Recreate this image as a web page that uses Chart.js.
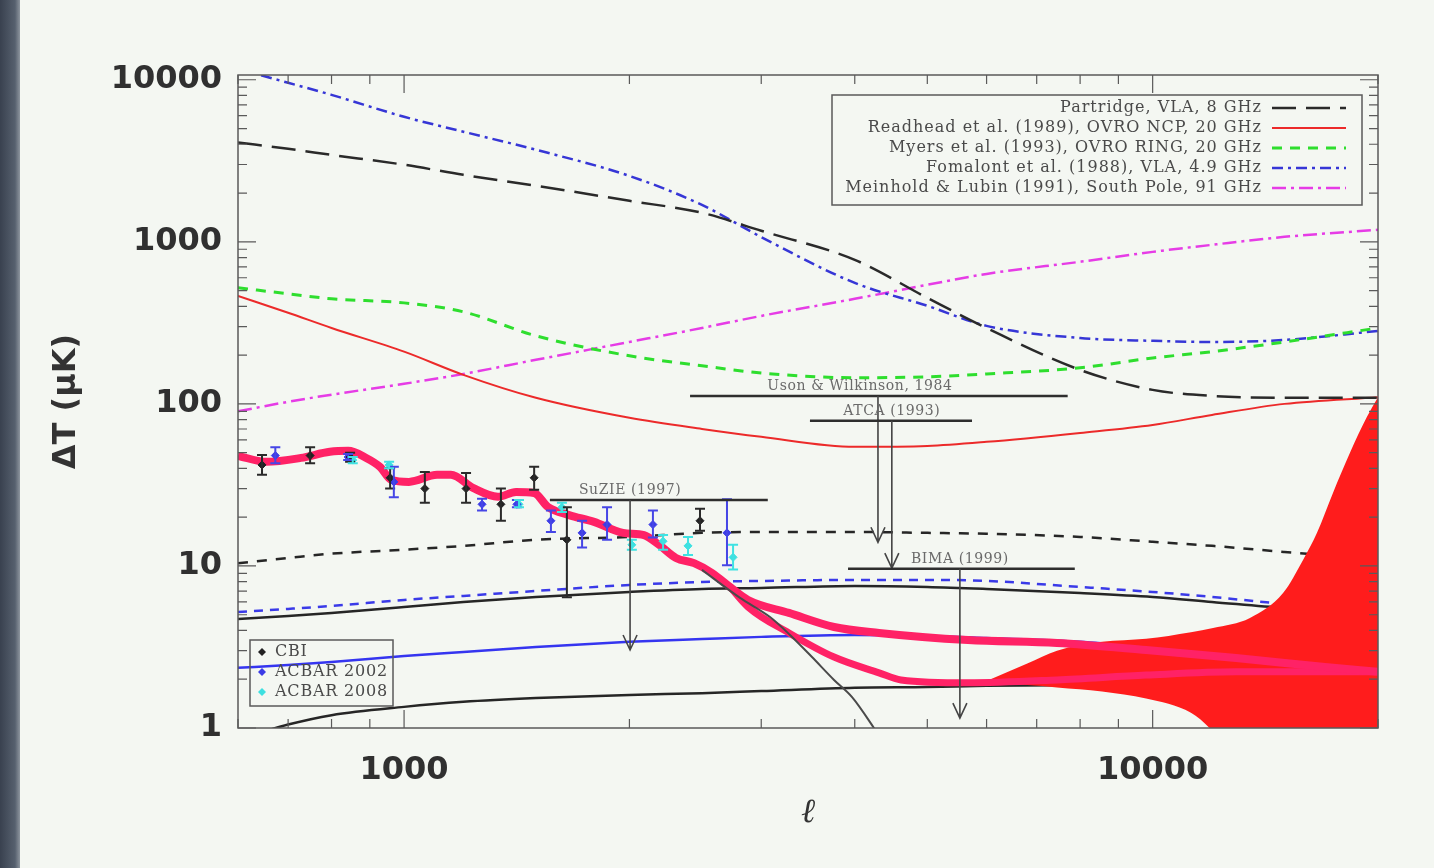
<!DOCTYPE html>
<html><head><meta charset="utf-8">
<script src="https://cdn.jsdelivr.net/npm/chart.js@4/dist/chart.umd.min.js"></script>
<style>
html,body{margin:0;padding:0;background:#f4f7f2;overflow:hidden;width:1434px;height:868px}
#edge{position:absolute;left:0;top:0;width:20px;height:868px;background:linear-gradient(to right,#39414f,#56606e 75%,#8d959e)}
#c{position:absolute;left:0;top:0}
</style></head>
<body><div id="edge"></div><canvas id="c" width="1434" height="868"></canvas>
<script>
// ---- axes ----
const xTicks = [1000, 10000];
const yTicks = [1, 10, 100, 1000, 10000];
const xRange = [600, 20000];
const yRange = [1, 10700];

// ---- sensitivity curves (sampled multipoles) ----
const ell = [600,700,800,1000,1200,1500,2000,2500,3000,4000,5000,6000,8000,10000,12000,15000,20000];
const partridge = [4100,3750,3440,2990,2590,2220,1790,1510,1170,774,451,294,162,122,112,109,109];
const readhead  = [464,365,294,210,151,109,82,70,62.6,54.3,55,58.3,66.2,74.1,85.5,100,110];
const myers     = [520,478,445,420,370,263,198,172,155,145,147,153,167,192,210,241,294];
const fomalont  = [11700,9580,8070,5910,4780,3700,2550,1690,1070,558,403,303,255,245,241,248,282];
const meinhold  = [90,103,114,133,153,187,241,294,349,445,543,634,753,867,958,1073,1186];
const dashedBlack = [10.4,11.2,11.9,12.6,13.3,14.5,15.1,16.0,16.2,16.2,16.0,15.8,15.1,14.1,13.3,12.2,10.9];
const dashedBlue  = [5.20,5.43,5.66,6.17,6.53,7.01,7.63,7.96,8.08,8.2,8.2,8.08,7.42,6.91,6.44,5.83,5.35];
const solidBlack  = [4.71,4.91,5.13,5.58,6.0,6.44,6.91,7.21,7.31,7.53,7.42,7.21,6.81,6.44,6.0,5.5,5.05];
const solidBlue   = [2.35,2.45,2.55,2.78,2.94,3.16,3.40,3.54,3.65,3.75,3.70,3.59,3.40,3.12,2.90,2.63,2.35];
const solidLow    = [0.85,1.05,1.20,1.35,1.45,1.53,1.60,1.64,1.69,1.77,1.79,1.82,1.84,1.85,1.86,1.87,1.87];

// ---- CMB model curves ----
const cmbL = [600,654,728,796,842,890,929,961,1015,1107,1155,1236,1335,1411,1492,1557,1661,1794,1961,2092,2191,2308,2440,2579,2726,2881,3267,3753,4310,5667,7451,9800,12925,16990,20000];
const cmbSZ = [47.8,43.9,46.4,50.6,51.3,46.4,40.8,34.0,33.0,36.5,36.5,30.3,26.7,28.6,28.2,23.1,20.6,18.7,16.0,15.5,13.5,11.2,10.4,9.05,7.42,6.17,5.13,4.20,3.86,3.49,3.35,3.03,2.70,2.38,2.22];
const lowL = [2726,2881,3267,3753,4310,4612,5667,7451,9800,12925,20000];
const cmbSZLow = [7.42,5.58,3.86,2.74,2.19,1.98,1.90,1.98,2.12,2.22,2.22];
const primL = [2500,2811,3082,3278,3507,3753,3967,4243,4389];
const primary = [9.45,6.35,4.84,3.75,2.74,1.98,1.55,1.0,0.785];
const bandL  = [6000,6800,7451,8558,9800,11250,12042,13488,14935,15882,16578,17413,18348,19333,20000];
const bandHi = [1.95,2.5,3.0,3.4,3.55,3.9,4.14,4.78,6.81,10.9,16.0,28.2,49.9,83.2,110];
const bandLo = [1.9,1.84,1.78,1.68,1.52,1.24,0.95,0.5,0.5,0.5,0.5,0.5,0.5,0.5,0.5];

// ---- data points ----
const cbiL  = [646,749,847,958,1066,1210,1347,1492,1650,2485];
const cbiV  = [42,48,47,35,30,30,24,35,14.5,19];
const cbiLo = [36.5,43,44,30,24.5,24.5,19,29.5,6.4,16.5];
const cbiHi = [48.4,54,50,40,38,37.5,30,41,23,22.5];
const acb02L  = [673,842,969,1271,1415,1571,1729,1867,2150,2700];
const acb02V  = [48,47,33,24,24,19,16,18,18,16];
const acb02Lo = [43,45,26.5,22,23,16.2,13,14.5,15,10.1];
const acb02Hi = [54,49,41,26,25.5,22,19,23,22,25.8];
const acb08L  = [854,955,1424,1625,2015,2218,2395,2751];
const acb08V  = [45,42,24,23,13.5,14.2,13.3,11.3];
const acb08Lo = [43,40,23,21.5,12.6,12.6,11.7,9.5];
const acb08Hi = [47,44,25.5,24.5,14.5,15.5,15.1,13.5];

// ---- upper limits ----
const limitNames = ['Uson & Wilkinson, 1984','ATCA (1993)','SuZIE (1997)','BIMA (1999)'];
const limitLmin  = [2410,3485,1566,3918];
const limitLmax  = [7700,5737,3061,7870];
const limitValue = [112,78.6,25.5,9.6];
const limitArrowL = [4296,4483,2004,5527];
const limitArrowTip = [14.0,9.7,3.03,1.15];

const pts = (L,V) => L.map((l,i)=>({x:l,y:V[i]}));
const line = (label,L,V,color,width,dash,order,extra) => Object.assign({
  label, data:pts(L,V), showLine:true, borderColor:color, backgroundColor:color,
  borderWidth:width, borderDash:dash||[], pointRadius:0, order,
  cubicInterpolationMode:'monotone', fill:false
}, extra||{});

const datasets = [
  line('Partridge, VLA, 8 GHz', ell, partridge, '#2a2a2a', 2.5, [24,10], 6),
  line('Readhead et al. (1989), OVRO NCP, 20 GHz', ell, readhead, '#ec2a2a', 2, [], 6),
  line('Myers et al. (1993), OVRO RING, 20 GHz', ell, myers, '#2ede2e', 3, [10,8], 6),
  line('Fomalont et al. (1988), VLA, 4.9 GHz', ell, fomalont, '#3636d6', 2.5, [11,5,3,5], 6),
  line('Meinhold & Lubin (1991), South Pole, 91 GHz', ell, meinhold, '#e63ce6', 2.5, [14,5,3,5], 6),
  line('noise dashed black', ell, dashedBlack, '#262626', 2.5, [10,9], 5),
  line('noise dashed blue', ell, dashedBlue, '#3a3ae8', 2.5, [9,7], 5),
  line('noise solid black', ell, solidBlack, '#262626', 2.5, [], 5),
  line('noise solid blue', ell, solidBlue, '#3535f0', 2.5, [], 5),
  line('noise solid low', ell, solidLow, '#262626', 2.5, [], 5),
  line('band high', bandL, bandHi, 'rgba(0,0,0,0)', 0, [], 4, {fill:'+1', backgroundColor:'#ff1c1c'}),
  line('band low', bandL, bandLo, 'rgba(0,0,0,0)', 0, [], 4),
  line('CMB + SZ', cmbL, cmbSZ, '#ff2266', 8, [], 3),
  line('CMB + SZ low', lowL, cmbSZLow, '#ff2266', 7, [], 3),
  line('primary CMB', primL, primary, '#4a4a4a', 2, [], 2),
  {label:'CBI', data:pts(cbiL,cbiV), showLine:false, pointStyle:'rectRot', pointRadius:4, backgroundColor:'#222', borderColor:'#222', order:0},
  {label:'ACBAR 2002', data:pts(acb02L,acb02V), showLine:false, pointStyle:'rectRot', pointRadius:4, backgroundColor:'#3c3ce6', borderColor:'#3c3ce6', order:0},
  {label:'ACBAR 2008', data:pts(acb08L,acb08V), showLine:false, pointStyle:'rectRot', pointRadius:4, backgroundColor:'#3de0e0', borderColor:'#3de0e0', order:0}
];

const overlay = {
  id:'overlay',
  afterDatasetsDraw(chart){
    const ctx = chart.ctx, xs = chart.scales.x, ys = chart.scales.y, a = chart.chartArea;
    const px = v => xs.getPixelForValue(v), py = v => ys.getPixelForValue(v);
    ctx.save();
    ctx.beginPath(); ctx.rect(a.left,a.top,a.right-a.left,a.bottom-a.top); ctx.clip();
    const err = (L,LO,HI,color) => {
      ctx.strokeStyle = color; ctx.lineWidth = 2;
      L.forEach((l,i)=>{
        const x = px(l), y1 = py(LO[i]), y2 = py(HI[i]);
        ctx.beginPath(); ctx.moveTo(x,y1); ctx.lineTo(x,y2);
        ctx.moveTo(x-5,y1); ctx.lineTo(x+5,y1); ctx.moveTo(x-5,y2); ctx.lineTo(x+5,y2); ctx.stroke();
      });
    };
    err(cbiL,cbiLo,cbiHi,'#2a2a2a');
    err(acb02L,acb02Lo,acb02Hi,'#4646e6');
    err(acb08L,acb08Lo,acb08Hi,'#3fe2e2');
    limitNames.forEach((name,i)=>{
      const y = py(limitValue[i]);
      ctx.strokeStyle = '#2e2e2e'; ctx.lineWidth = 2.5;
      ctx.beginPath(); ctx.moveTo(px(limitLmin[i]),y); ctx.lineTo(px(limitLmax[i]),y); ctx.stroke();
      const xa = px(limitArrowL[i]), ya = py(limitArrowTip[i]);
      ctx.strokeStyle = '#444'; ctx.lineWidth = 1.6;
      ctx.beginPath(); ctx.moveTo(xa,y); ctx.lineTo(xa,ya);
      ctx.moveTo(xa-7,ya-15); ctx.lineTo(xa,ya); ctx.lineTo(xa+7,ya-15); ctx.stroke();
      ctx.fillStyle = '#6a6a6a'; ctx.font = '14px "DejaVu Serif"';
      ctx.letterSpacing = '0.6px';
      ctx.textAlign = 'center'; ctx.textBaseline = 'alphabetic';
      ctx.fillText(name, xa - (i===0?18:0), y-6);
      ctx.letterSpacing = '0px';
    });
    ctx.restore();

    // frame and inner ticks
    ctx.save();
    ctx.strokeStyle = '#5a5a5a'; ctx.lineWidth = 1.5;
    ctx.strokeRect(a.left,a.top,a.right-a.left,a.bottom-a.top);
    ctx.lineWidth = 1.2;
    for (let d=1; d<=10000; d*=10) for (let m=1; m<10; m++) {
      const v = d*m; if (v>yRange[1]) continue;
      const y = py(v), len = m===1?18:9;
      ctx.beginPath(); ctx.moveTo(a.left,y); ctx.lineTo(a.left+len,y);
      ctx.moveTo(a.right,y); ctx.lineTo(a.right-len,y); ctx.stroke();
    }
    for (let d=100; d<=10000; d*=10) for (let m=1; m<10; m++) {
      const v = d*m; if (v<xRange[0]||v>xRange[1]) continue;
      const x = px(v), len = m===1?18:9;
      ctx.beginPath(); ctx.moveTo(x,a.bottom); ctx.lineTo(x,a.bottom-len);
      ctx.moveTo(x,a.top); ctx.lineTo(x,a.top+len); ctx.stroke();
    }
    ctx.restore();

    // legend (top right)
    ctx.save();
    const curves = chart.data.datasets.slice(0,5);
    ctx.strokeStyle = '#5a5a5a'; ctx.lineWidth = 1.5;
    ctx.strokeRect(832,95,530,110);
    ctx.font = '16px "DejaVu Serif"'; ctx.fillStyle = '#4a4a4a';
    ctx.letterSpacing = '1px';
    ctx.textAlign = 'right'; ctx.textBaseline = 'middle';
    curves.forEach((ds,i)=>{
      const y = 108 + i*20;
      ctx.fillText(ds.label, 1262, y);
      ctx.strokeStyle = ds.borderColor; ctx.lineWidth = ds.borderWidth; ctx.setLineDash(ds.borderDash);
      ctx.beginPath(); ctx.moveTo(1272,y); ctx.lineTo(1346,y); ctx.stroke();
      ctx.setLineDash([]);
    });
    // legend (bottom left)
    const pts3 = chart.data.datasets.slice(15);
    ctx.strokeStyle = '#5a5a5a'; ctx.lineWidth = 1.5;
    ctx.strokeRect(250,640,143,66);
    ctx.textAlign = 'left'; ctx.font = '16px "DejaVu Serif"'; ctx.letterSpacing = '0.8px';
    pts3.forEach((ds,i)=>{
      const y = 652 + i*20;
      ctx.fillStyle = ds.backgroundColor;
      ctx.beginPath(); ctx.moveTo(262,y-4); ctx.lineTo(266,y); ctx.lineTo(262,y+4); ctx.lineTo(258,y); ctx.closePath(); ctx.fill();
      ctx.fillStyle = '#4a4a4a';
      ctx.fillText(ds.label, 275, y);
    });
    ctx.letterSpacing = '0px';
    ctx.restore();
  }
};

new Chart(document.getElementById('c'), {
  type:'scatter',
  data:{datasets},
  options:{
    responsive:false, animation:false, devicePixelRatio:1,
    layout:{padding:{top:75,right:56,left:0,bottom:0}},
    plugins:{legend:{display:false}, tooltip:{enabled:false}},
    scales:{
      x:{type:'logarithmic', min:xRange[0], max:xRange[1],
        grid:{display:false, drawTicks:false}, border:{display:false},
        afterBuildTicks:s=>{s.ticks = xTicks.map(v=>({value:v}));},
        afterFit:s=>{s.height = 140;},
        ticks:{callback:v=>String(v), font:{family:'DejaVu Sans', size:32, weight:'bold'}, color:'#303030', padding:23, autoSkip:false, maxRotation:0},
        title:{display:true, text:'ℓ', font:{family:'DejaVu Serif', size:34, style:'italic'}, color:'#333', padding:{top:0,bottom:34}}
      },
      y:{type:'logarithmic', min:yRange[0], max:yRange[1],
        grid:{display:false, drawTicks:false}, border:{display:false},
        afterBuildTicks:s=>{s.ticks = yTicks.map(v=>({value:v}));},
        afterFit:s=>{s.width = 238;},
        ticks:{callback:v=>String(v), font:{family:'DejaVu Sans', size:32, weight:'bold'}, color:'#303030', padding:16, autoSkip:false},
        title:{display:true, text:'ΔT (μK)', font:{family:'DejaVu Sans', size:32, weight:'bold'}, color:'#333', padding:{top:47,bottom:0}}
      }
    }
  },
  plugins:[overlay]
});
</script>
</body></html>
